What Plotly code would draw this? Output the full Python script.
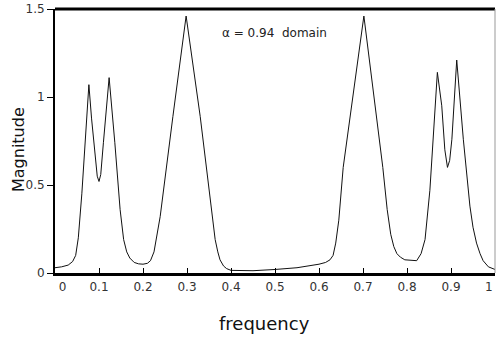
import plotly.graph_objects as go

freq = [0.0, 0.015, 0.03, 0.04, 0.047, 0.053, 0.061, 0.068, 0.077, 0.083, 0.09, 0.096,
        0.1, 0.104, 0.11, 0.123, 0.136, 0.148, 0.156, 0.163, 0.17, 0.18, 0.19, 0.2,
        0.21, 0.217, 0.225, 0.232, 0.239, 0.268, 0.298, 0.33, 0.352, 0.358, 0.364,
        0.37, 0.375, 0.383, 0.39, 0.4, 0.45, 0.5, 0.55, 0.6, 0.615, 0.625, 0.632,
        0.638, 0.645, 0.655, 0.702, 0.745, 0.755, 0.763, 0.77, 0.777, 0.785, 0.795,
        0.81, 0.822, 0.832, 0.841, 0.852, 0.869, 0.879, 0.886, 0.892, 0.897, 0.902,
        0.913, 0.928, 0.943, 0.95, 0.958, 0.966, 0.973, 0.985, 1.0]
magnitude = [0.03, 0.035, 0.045, 0.065, 0.10, 0.20, 0.45, 0.74, 1.07, 0.88, 0.68, 0.55,
             0.52, 0.56, 0.74, 1.11, 0.74, 0.36, 0.19, 0.12, 0.085, 0.06, 0.052, 0.05,
             0.055, 0.07, 0.12, 0.22, 0.32, 0.89, 1.46, 0.89, 0.42, 0.29, 0.19,
             0.12, 0.075, 0.04, 0.025, 0.015, 0.013, 0.02, 0.03, 0.05, 0.06, 0.075, 0.10,
             0.17, 0.30, 0.60, 1.46, 0.60, 0.36, 0.22, 0.15, 0.11, 0.09, 0.075,
             0.07, 0.07, 0.11, 0.19, 0.47, 1.14, 0.95, 0.70, 0.60, 0.64, 0.76,
             1.21, 0.76, 0.38, 0.26, 0.17, 0.11, 0.07, 0.035, 0.02]

x_ticks = [0, 0.1, 0.2, 0.3, 0.4, 0.5, 0.6, 0.7, 0.8, 0.9, 1]
x_labels = ["\u00a0\u00a0\u00a0\u00a00", "0.1", "0.2", "0.3", "0.4", "0.5", "0.6",
            "0.7", "0.8", "0.9", "1"]
y_ticks = [0, 0.5, 1, 1.5]
y_labels = ["0", "0.5", "1", "1.5"]

font_family = "DejaVu Sans, Verdana, sans-serif"

fig = go.Figure()
fig.add_trace(go.Scatter(x=freq, y=magnitude, mode="lines",
                         line=dict(color="#111111", width=1), showlegend=False))

plot_w = 496 - 55 - 1
plot_h = 342 - 9 - 69

# the last tick label sits flush against the right edge, so it is drawn as
# a right-anchored label at the last tick instead of a centred one
shown_labels = x_labels[:-1] + [""]

fig.update_layout(
    width=496, height=342,
    margin=dict(l=55, r=1, t=9, b=69),
    paper_bgcolor="white", plot_bgcolor="white",
    font=dict(family=font_family, color="#333333", size=12),
    xaxis=dict(range=[0, 1], tickvals=x_ticks, ticktext=shown_labels, automargin=False,
               showgrid=False, zeroline=False, showline=True, linecolor="black",
               linewidth=3, ticks="inside", ticklen=5, tickcolor="black",
               ticklabelstandoff=1),
    yaxis=dict(range=[0, 1.5], tickvals=y_ticks, ticktext=y_labels, automargin=False,
               showgrid=False, zeroline=False, showline=True, linecolor="black",
               linewidth=2, ticks="outside", ticklen=6, tickcolor="black"),
    shapes=[
        dict(type="line", xref="paper", yref="paper", x0=0, x1=1, y0=1, y1=1,
             line=dict(color="black", width=3)),
        dict(type="line", xref="paper", yref="paper", x0=1, x1=1, y0=0, y1=1,
             line=dict(color="#999999", width=1)),
    ],
    annotations=[
        dict(text="α = 0.94  domain", x=0.375, y=1.365, xref="x", yref="y",
             showarrow=False, xanchor="left", yanchor="middle",
             font=dict(size=12, color="#222222")),
        dict(text=x_labels[-1], x=x_ticks[-1], y=(273 - 287) / plot_h,
             xref="x", yref="paper", xanchor="right", yanchor="middle",
             xshift=0, showarrow=False, font=dict(size=12, color="#333333")),
        dict(text="frequency", x=(264 - 55) / plot_w, y=(342 - 69 - 323) / plot_h,
             xref="paper", yref="paper", xanchor="center", yanchor="middle",
             showarrow=False, font=dict(size=18, color="#111111")),
        dict(text="Magnitude", textangle=-90, x=(18 - 55) / plot_w,
             y=(273 - 150) / plot_h, xref="paper", yref="paper",
             xanchor="center", yanchor="middle", showarrow=False,
             font=dict(size=16, color="#111111")),
    ],
)

fig.write_html("out.html")
